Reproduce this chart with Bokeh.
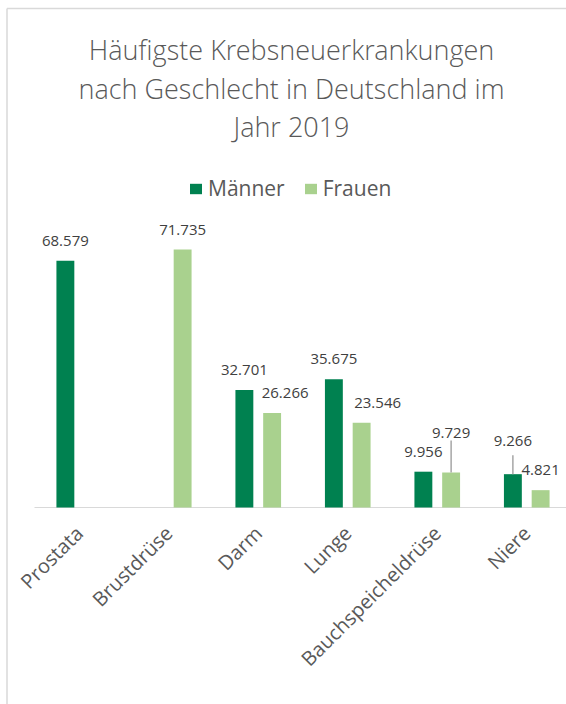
import math
from bokeh.plotting import figure
from bokeh.models import Range1d, Legend, LegendItem, ColumnDataSource
from bokeh.core.properties import value
from bokeh.embed import file_html
from bokeh.resources import INLINE

# ---- data ----
categories = ["Prostata", "Brustdrüse", "Darm", "Lunge", "Bauchspeicheldrüse", "Niere"]
maenner = [68579, None, 32701, 35675, 9956, 9266]
frauen = [None, 71735, 26266, 23546, 9729, 4821]
series_names = ["Männer", "Frauen"]
title_lines = ["Häufigste Krebsneuerkrankungen",
               "nach Geschlecht in Deutschland im",
               "Jahr 2019"]

# ---- style ----
C_M = "#008150"
C_F = "#A9D18E"
TXT = "#595959"
LBL = "#404040"
GRID = "#D9D9D9"
FONT = "Open Sans"
TITLE_FONT = "Open Sans Light"
# moved data labels: (shift right px, offset above bar top px, leader line length px)
label_shift = {("Frauen", 2): (13, 20, 0), ("Frauen", 3): (16, 20, 0),
               ("Frauen", 4): (0, 40, 32), ("Männer", 5): (0, 33, 19)}

def fmt(v):
    return f"{v:,}".replace(",", ".")

# ---- layout: the frame fills the whole canvas ----
W, H = 566, 704
BASE_PX = 507          # pixel row of the category axis
LEFT_PX = 34           # pixel column where the first category band begins
BAND_PX = 89.5         # pixel width of one category band
PPU = 258 / 71735      # pixels per case
x0 = -0.5 - LEFT_PX / BAND_PX
y0 = -(H - BASE_PX) / PPU

def px2x(px):
    return x0 + px / BAND_PX

def py2y(py):
    return (BASE_PX - py) / PPU

p = figure(width=W, height=H, output_backend="svg", toolbar_location=None,
           x_range=Range1d(x0, x0 + W / BAND_PX), y_range=Range1d(y0, y0 + H / PPU),
           min_border=0, title=None, tools="")
p.outline_line_color = None
p.background_fill_color = "white"
p.border_fill_color = "white"
p.grid.visible = False
p.axis.visible = False

# chart border (left and top edge visible)
p.segment(x0=[px2x(6.5), px2x(6.5)], y0=[py2y(8), py2y(8)],
          x1=[px2x(6.5), px2x(W + 10)], y1=[py2y(H + 10), py2y(8)],
          line_color=GRID, line_width=1.5)

# category axis line
p.segment(x0=[-0.5], y0=[0], x1=[x0 + W / BAND_PX], y1=[0], line_color=GRID, line_width=1)

# category labels, rotated 45°
cat_src = ColumnDataSource(dict(x=list(range(len(categories))), y=[0] * len(categories),
                                t=categories))
p.text(x="x", y="y", text="t", source=cat_src, angle=math.pi / 4,
       text_align="right", text_baseline="middle", x_offset=0, y_offset=22,
       text_font=value(FONT), text_font_size="20px", text_color=TXT)

offset = 0.155
bw = 0.2
renderers = {}
for name, vals, col, dx in [("Männer", maenner, C_M, -offset), ("Frauen", frauen, C_F, offset)]:
    xs, tops, labs, xo, yo = [], [], [], [], []
    lx, ly0, ly1 = [], [], []
    for i, v in enumerate(vals):
        if v is None:
            continue
        xs.append(i + dx)
        tops.append(v)
        labs.append(fmt(v))
        sx, sy, sl = label_shift.get((name, i), (0, 20, 0))
        xo.append(sx)
        yo.append(-sy)
        if sl:
            lx.append(i + dx)
            ly0.append(v)
            ly1.append(v + sl / PPU)
    src = ColumnDataSource(dict(x=xs, top=tops, lab=labs, xo=xo, yo=yo))
    r = p.vbar(x="x", top="top", bottom=0, width=bw, source=src, fill_color=col, line_color=None)
    renderers[name] = r
    p.text(x="x", y="top", text="lab", x_offset="xo", y_offset="yo", source=src,
           text_align="center", text_baseline="middle", text_font=value(FONT),
           text_font_size="15px", text_color=LBL)
    if lx:
        p.segment(x0=lx, y0=ly0, x1=lx, y1=ly1, line_color="#A6A6A6", line_width=1.5)

# title
title_src = ColumnDataSource(dict(x=[px2x(291)] * 3, y=[py2y(49), py2y(88), py2y(126)],
                                  t=title_lines))
p.text(x="x", y="y", text="t", source=title_src, text_align="center",
       text_baseline="alphabetic", text_font=value(TITLE_FONT),
       text_font_size="27px", text_color=TXT)

# legend
legend = Legend(items=[LegendItem(label=n, renderers=[renderers[n]]) for n in series_names],
                orientation="horizontal", location=(188, 502),
                label_text_font=FONT, label_text_font_size="21px", label_text_color=TXT,
                glyph_width=15, glyph_height=13, label_standoff=5, spacing=18,
                padding=0, margin=0, border_line_color=None, background_fill_alpha=0)
p.add_layout(legend)

open("out.html", "w").write(file_html(p, INLINE))
